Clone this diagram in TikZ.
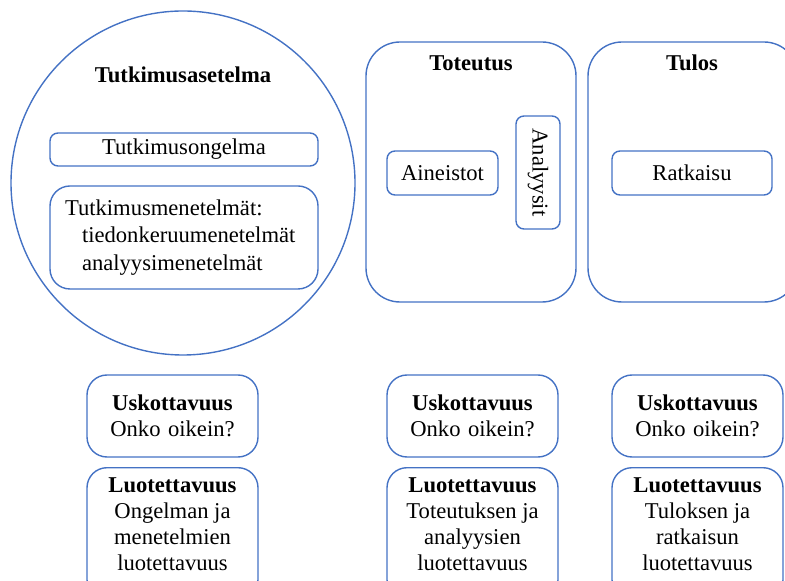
\documentclass[tikz,border=0pt]{standalone}
\usepackage{fontspec}
\setmainfont{Liberation Serif}
\definecolor{frame}{RGB}{68,114,196}

\tikzset{
  box/.style={draw=frame, line width=0.7pt, rounded corners=4pt, inner sep=0pt, align=center},
  bigbox/.style={box, rounded corners=17pt, minimum width=105pt, minimum height=130pt},
  checkbox/.style={box, rounded corners=10pt, text width=85.5pt, inner xsep=0pt},
  heading/.style={font=\fontsize{11.3}{13}\selectfont\bfseries}
}

\begin{document}
\begin{tikzpicture}[x=0.5pt, y=-0.5pt, font=\fontsize{11.3}{13}\selectfont]
\useasboundingbox (0,0) rectangle (785,581);
\clip (0,0) rectangle (785,581);

% research setting
\node[draw=frame, line width=0.7pt, circle, minimum size=172pt, inner sep=0pt] (asetelma) at (183,183) {};
\node[heading] (asetelmaotsikko) at (183,75) {Tutkimusasetelma};
\node[box, minimum width=134pt, minimum height=16.5pt] (ongelma) at (184,149.5) {Tutkimusongelma};
\node[box, rounded corners=10pt, text width=119pt, inner xsep=7.5pt, minimum height=51.5pt, align=left,
  font=\fontsize{11.3}{13.75}\selectfont] (menetelmat) at (184,237.5)
  {Tutkimusmenetelmät:\\\hspace*{8.5pt}tiedonkeruumenetelmät\\\hspace*{8.5pt}analyysimenetelmät};

% implementation and result
\node[bigbox] (toteutus) at (471,172) {};
\node[heading] (toteutusotsikko) at (471,63) {Toteutus};
\node[box, minimum width=55.5pt, minimum height=22pt] (aineistot) at (442.5,173) {Aineistot};
\node[box, minimum width=56.5pt, minimum height=22pt, rotate=-90] (analyysit) at (538,172.5) {Analyysit};

\node[bigbox] (tulos) at (693,172) {};
\node[heading] (tulosotsikko) at (692,63) {Tulos};
\node[box, minimum width=80pt, minimum height=22pt] (ratkaisu) at (692,173) {Ratkaisu};

% credibility
\node[checkbox, minimum height=41pt] (usko1) at (172.5,416) {\textbf{Uskottavuus}\\Onko oikein?};
\node[checkbox, minimum height=41pt] (usko2) at (472.5,416) {\textbf{Uskottavuus}\\Onko oikein?};
\node[checkbox, minimum height=41pt] (usko3) at (697.5,416) {\textbf{Uskottavuus}\\Onko oikein?};

% reliability (boxes run past the lower edge)
\node[checkbox, anchor=north, minimum height=66pt] (luotet1) at (172.5,467) {};
\node[checkbox, anchor=north, minimum height=66pt] (luotet2) at (472.5,467) {};
\node[checkbox, anchor=north, minimum height=66pt] (luotet3) at (697.5,467) {};
\node[anchor=north, align=center, inner sep=0pt, yshift=-5pt] (luotet1teksti) at (luotet1.north) {\textbf{Luotettavuus}\\Ongelman ja\\menetelmien\\luotettavuus};
\node[anchor=north, align=center, inner sep=0pt, yshift=-5pt] (luotet2teksti) at (luotet2.north) {\textbf{Luotettavuus}\\Toteutuksen ja\\analyysien\\luotettavuus};
\node[anchor=north, align=center, inner sep=0pt, yshift=-5pt] (luotet3teksti) at (luotet3.north) {\textbf{Luotettavuus}\\Tuloksen ja\\ratkaisun\\luotettavuus};

\end{tikzpicture}
\end{document}
